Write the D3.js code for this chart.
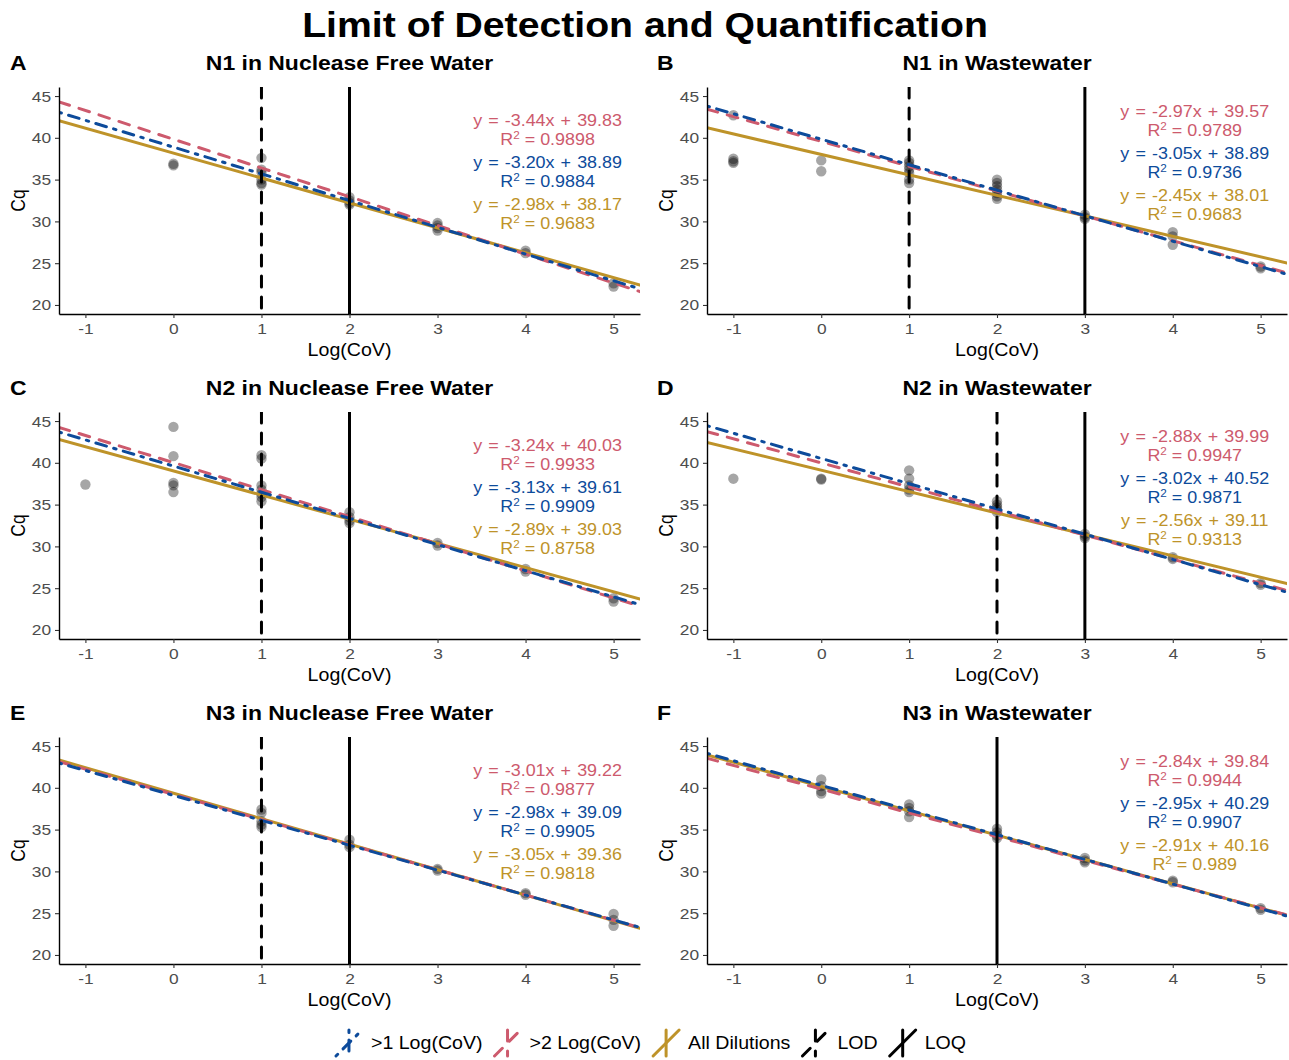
<!DOCTYPE html>
<html><head><meta charset="utf-8">
<script src="https://cdn.jsdelivr.net/npm/d3@7"></script>
<style>body{margin:0;background:#fff} svg{display:block}</style>
</head><body>
<svg id="chart" width="1289" height="1060"></svg>
<script>
// ---------------- data ----------------
const panelLetters = ["A","B","C","D","E","F"];
const panelTitles = ["N1 in Nuclease Free Water","N1 in Wastewater","N2 in Nuclease Free Water","N2 in Wastewater","N3 in Nuclease Free Water","N3 in Wastewater"];
const xTicks = [-1,0,1,2,3,4,5];
const yTicks = [20,25,30,35,40,45];
const lodX = [1,1,1,2,1,2];
const loqX = [2,3,2,3,2,2];

const seriesNames = [">1 Log(CoV)", ">2 Log(CoV)", "All Dilutions", "LOD", "LOQ"];

// regression lines as drawn
const slopeGt1 = [-3.20,-3.05,-3.13,-3.02,-2.98,-2.95];
const interceptGt1 = [38.89,39.83,39.61,40.52,39.09,40.29];
const slopeGt2 = [-3.44,-2.97,-3.24,-2.88,-3.01,-2.84];
const interceptGt2 = [39.83,39.57,40.03,39.99,39.22,39.84];
const slopeAll = [-2.98,-2.45,-2.89,-2.56,-3.05,-2.91];
const interceptAll = [38.17,38.01,39.03,39.11,39.36,40.16];

// annotation labels
const eqGt2 = ["y = -3.44x + 39.83","y = -2.97x + 39.57","y = -3.24x + 40.03","y = -2.88x + 39.99","y = -3.01x + 39.22","y = -2.84x + 39.84"];
const r2Gt2 = ["0.9898","0.9789","0.9933","0.9947","0.9877","0.9944"];
const eqGt1 = ["y = -3.20x + 38.89","y = -3.05x + 38.89","y = -3.13x + 39.61","y = -3.02x + 40.52","y = -2.98x + 39.09","y = -2.95x + 40.29"];
const r2Gt1 = ["0.9884","0.9736","0.9909","0.9871","0.9905","0.9907"];
const eqAll = ["y = -2.98x + 38.17","y = -2.45x + 38.01","y = -2.89x + 39.03","y = -2.56x + 39.11","y = -3.05x + 39.36","y = -2.91x + 40.16"];
const r2All = ["0.9683","0.9683","0.8758","0.9313","0.9818","0.989"];

// replicate Cq points [log(CoV), Cq]
const pointsA = [[0,36.9],[0,36.7],[1,37.6],[1,36.2],[1,35.9],[1,35.0],[1,34.6],[1,34.4],[2,32.9],[2,32.5],[2,32.2],[2,32.0],[3,29.8],[3,29.5],[3,29.2],[3,28.9],[4,26.5],[4,26.2],[5,22.6],[5,22.2]];
const pointsB = [[-1,42.7],[-1,37.5],[-1,37.2],[-1,37.0],[0,37.3],[0,36.0],[1,37.3],[1,37.0],[1,36.6],[1,36.2],[1,35.8],[1,35.0],[1,34.6],[2,35.0],[2,34.6],[2,34.2],[2,33.8],[2,33.4],[2,33.0],[2,32.7],[3,30.8],[3,30.5],[3,30.3],[4,28.7],[4,28.2],[4,27.2],[5,24.6],[5,24.4]];
const pointsC = [[-1,37.4],[0,44.3],[0,40.8],[0,37.6],[0,37.3],[0,36.5],[1,40.9],[1,40.5],[1,37.3],[1,36.8],[1,36.3],[1,35.9],[1,35.4],[2,34.1],[2,33.5],[2,33.1],[2,32.8],[3,30.4],[3,30.1],[4,27.3],[4,27.0],[5,23.8],[5,23.4]];
const pointsD = [[-1,38.1],[0,38.1],[0,38.0],[1,39.1],[1,38.1],[1,37.3],[1,36.8],[1,36.5],[2,35.4],[2,35.0],[2,34.7],[2,34.4],[2,34.1],[3,31.5],[3,31.2],[3,31.0],[4,28.7],[4,28.5],[5,25.6],[5,25.4]];
const pointsE = [[1,37.4],[1,37.0],[1,36.0],[1,35.6],[1,35.3],[2,33.8],[2,33.2],[2,32.9],[3,30.3],[3,30.1],[4,27.4],[4,27.2],[5,24.9],[5,24.2],[5,23.5]];
const pointsF = [[0,41.0],[0,40.2],[0,39.6],[0,39.3],[1,38.0],[1,37.6],[1,37.2],[1,36.5],[2,35.1],[2,34.7],[2,34.3],[2,34.0],[3,31.6],[3,31.3],[3,31.1],[4,28.9],[4,28.7],[5,25.6],[5,25.4]];
const allPoints = [pointsA,pointsB,pointsC,pointsD,pointsE,pointsF];

// ---------------- style ----------------
const SX = 1.12;
const FONT = "'Liberation Sans', Arial, Helvetica, sans-serif";
const RED = "#CD5A6D", BLUE = "#0D4B9B", GOLD = "#BE9329";
const LW = 3;
const DASH = "11,10", DOTDASH = "2.5,7.5,11,7.5";

const svg = d3.select("#chart");

function txt(parent, x, y, s, o) {
  const t = parent.append("text")
    .attr("transform", `translate(${x},${y}) scale(${SX},1)` + (o.rotate ? ` rotate(${o.rotate})` : ""))
    .attr("text-anchor", o.anchor || "middle")
    .attr("dy", "0.35em")
    .style("font-family", FONT)
    .style("font-size", o.size + "px")
    .style("font-weight", o.weight || "normal")
    .attr("fill", o.fill || "#000");
  if (s !== null) t.text(s);
  return t;
}

txt(svg, 645, 25, "Limit of Detection and Quantification", {size: 35, weight: "bold"});

panelTitles.forEach((title, i) => {
  const col = i % 2, row = Math.floor(i / 2);
  const left = col === 0 ? 59 : 707;
  const right = col === 0 ? 640 : 1287;
  const top = 87 + 325 * row, bottom = 314 + 325 * row;
  const x = d3.scaleLinear().domain([-1.3, 5.3]).range([left, right]);
  const y = d3.scaleLinear().domain([18.92, 46.08]).range([bottom, top]);
  const g = svg.append("g");

  const clipId = "clip" + i;
  g.append("clipPath").attr("id", clipId).append("rect")
    .attr("x", left).attr("y", top).attr("width", right - left).attr("height", bottom - top);
  const plot = g.append("g").attr("clip-path", `url(#${clipId})`);

  // points
  plot.selectAll("circle").data(allPoints[i]).join("circle")
    .attr("cx", d => x(d[0])).attr("cy", d => y(d[1])).attr("r", 5.2)
    .attr("fill", "#000").attr("fill-opacity", 0.35);

  // regression lines
  const regs = [
    {m: slopeAll[i], b: interceptAll[i], c: GOLD, d: null},
    {m: slopeGt2[i], b: interceptGt2[i], c: RED, d: DASH},
    {m: slopeGt1[i], b: interceptGt1[i], c: BLUE, d: DOTDASH}
  ];
  const line = d3.line().x(d => x(d[0])).y(d => y(d[1]));
  regs.forEach(r => {
    plot.append("path")
      .attr("d", line([[-1.3, r.b + r.m * -1.3], [5.3, r.b + r.m * 5.3]]))
      .attr("fill", "none").attr("stroke", r.c).attr("stroke-width", LW)
      .attr("stroke-linecap", "round")
      .attr("stroke-dasharray", r.d);
  });

  // LOD / LOQ
  if (lodX[i] !== loqX[i]) {
    plot.append("line").attr("x1", x(lodX[i])).attr("x2", x(lodX[i])).attr("y1", top).attr("y2", bottom)
      .attr("stroke", "#000").attr("stroke-width", LW).attr("stroke-dasharray", DASH).attr("stroke-linecap", "round");
  }
  plot.append("line").attr("x1", x(loqX[i])).attr("x2", x(loqX[i])).attr("y1", top).attr("y2", bottom)
    .attr("stroke", "#000").attr("stroke-width", LW);

  // axes
  const ax = g.append("g").attr("transform", `translate(0,${bottom})`)
    .call(d3.axisBottom(x).tickValues(xTicks).tickFormat(d => String(d)).tickSize(4).tickSizeOuter(0).tickPadding(5));
  const ay = g.append("g").attr("transform", `translate(${left},0)`)
    .call(d3.axisLeft(y).tickValues(yTicks).tickFormat(d => String(d)).tickSize(4).tickSizeOuter(0).tickPadding(3));
  [ax, ay].forEach(a => {
    a.select(".domain").attr("stroke", "#000").attr("stroke-width", 1.4);
    a.selectAll(".tick line").attr("stroke", "#333").attr("stroke-width", 1.1);
    a.selectAll(".tick text").style("font-family", FONT).style("font-size", "15.5px").attr("fill", "#4D4D4D")
      .attr("transform", `scale(${SX},1)`);
  });

  // titles
  txt(g, (left + right) / 2, top - 24, title, {size: 20.5, weight: "bold"});
  txt(g, col === 0 ? 10 : 657, top - 24, panelLetters[i], {size: 20.5, weight: "bold", anchor: "start"});
  txt(g, (left + right) / 2, bottom + 36, "Log(CoV)", {size: 17.5});
  txt(g, left - 41, (top + bottom) / 2, "Cq", {size: 17.5, rotate: -90});

  // annotations
  const ax0 = x(4.25);
  const y0 = top + (col === 0 ? 33 : 24);
  const ann = [[eqGt2[i], r2Gt2[i], RED], [eqGt1[i], r2Gt1[i], BLUE], [eqAll[i], r2All[i], GOLD]];
  ann.forEach((a, k) => {
    const ye = y0 + k * 42;
    txt(g, ax0, ye, a[0], {size: 16, fill: a[2]}).style("word-spacing", "1px");
    const t = txt(g, ax0, ye + 19.5, null, {size: 16, fill: a[2]});
    t.append("tspan").text("R");
    t.append("tspan").text("2").style("font-size", "10.5px").attr("dy", "-6");
    t.append("tspan").text(" = " + a[1]).attr("dy", "6");
  });
});

// ---------------- legend ----------------
const legendItems = [
  {name: seriesNames[0], c: BLUE, d: DOTDASH},
  {name: seriesNames[1], c: RED, d: DASH},
  {name: seriesNames[2], c: GOLD, d: null},
  {name: seriesNames[3], c: "#000", d: DASH},
  {name: seriesNames[4], c: "#000", d: null}
];
const lg = svg.append("g");
const KEY = 30, GAP = 7, SPACE = 10, LY = 1043;
const widths = legendItems.map(it => {
  const t = txt(lg, 0, -100, it.name, {size: 17.5});
  const w = t.node().getComputedTextLength() * SX;
  t.remove();
  return w;
});
const total = d3.sum(widths) + legendItems.length * (KEY + GAP) + (legendItems.length - 1) * SPACE;
let cx = 650 - total / 2;
legendItems.forEach((it, k) => {
  const kx = cx, ky = LY - KEY / 2;
  lg.append("line").attr("x1", kx + 2).attr("y1", ky + KEY - 2).attr("x2", kx + KEY - 2).attr("y2", ky + 2)
    .attr("stroke", it.c).attr("stroke-width", LW).attr("stroke-dasharray", it.d).attr("stroke-linecap", "round");
  lg.append("line").attr("x1", kx + KEY / 2).attr("y1", ky + 2).attr("x2", kx + KEY / 2).attr("y2", ky + KEY - 2)
    .attr("stroke", it.c).attr("stroke-width", LW).attr("stroke-dasharray", it.d).attr("stroke-linecap", "round");
  txt(lg, kx + KEY + GAP, LY, it.name, {size: 17.5, anchor: "start"});
  cx += KEY + GAP + widths[k] + SPACE;
});
</script>
</body></html>
